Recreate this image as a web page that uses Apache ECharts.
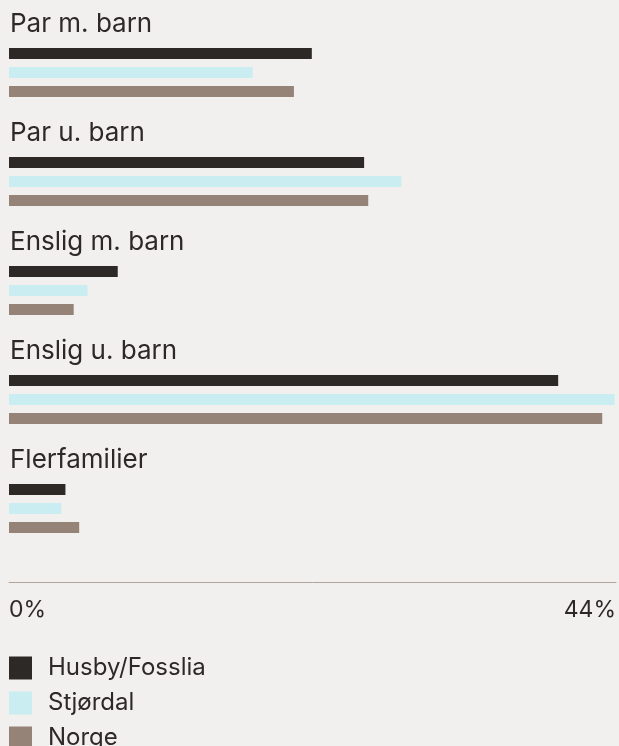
<!DOCTYPE html>
<html>
<head>
<meta charset="utf-8">
<script src="https://cdn.jsdelivr.net/npm/echarts@6/dist/echarts.min.js"></script>
<style>
html,body{margin:0;padding:0;background:#f2f0ee;}
#chart{width:619px;height:746px;}
</style>
</head>
<body>
<div id="chart"></div>
<script>
const categories = ['Par m. barn', 'Par u. barn', 'Enslig m. barn', 'Enslig u. barn', 'Flerfamilier'];
const seriesNames = ['Husby/Fosslia', 'Stjørdal', 'Norge'];
const husby = [22.0, 25.8, 7.9, 39.9, 4.1];
const stjordal = [17.7, 28.5, 5.7, 44.0, 3.8];
const norge = [20.7, 26.1, 4.7, 43.1, 5.1];
const axisMax = 44.1;
const colors = ['#2d2926', '#c9edf0', '#968378'];

const chart = echarts.init(document.getElementById('chart'));
const font = 'Inter, "Noto Sans", sans-serif';
const values = [husby, stjordal, norge];
chart.setOption({
  backgroundColor: '#f2f0ee',
  animation: false,
  textStyle: { fontFamily: font, color: '#2d2926' },
  grid: { left: 9, right: 0, top: 18, height: 545, containLabel: false },
  legend: {
    orient: 'vertical', left: 9, top: 656, height: 200, padding: 0,
    itemWidth: 23, itemHeight: 23, itemGap: 11, icon: 'rect',
    textStyle: { fontSize: 24, fontFamily: font, color: '#2d2926', padding: [0, 0, 0, 11] },
    data: seriesNames
  },
  xAxis: {
    type: 'value', min: 0, max: axisMax, interval: axisMax, offset: 19,
    axisLine: { show: true, lineStyle: { color: '#b3a49a', width: 1 } },
    axisTick: { show: false }, splitLine: { show: false },
    axisLabel: {
      fontSize: 23, color: '#2d2926', fontFamily: font, margin: 17,
      alignMinLabel: 'left', alignMaxLabel: 'right',
      formatter: v => Math.round(v) + '%'
    }
  },
  yAxis: {
    type: 'category', data: categories, inverse: true,
    axisLine: { show: false }, axisTick: { show: false }, splitLine: { show: false },
    axisLabel: {
      inside: true, align: 'left', verticalAlign: 'bottom', margin: 1,
      fontSize: 26, lineHeight: 28, color: '#2d2926', fontFamily: font,
      padding: [0, 0, 34, 0]
    }
  },
  series: seriesNames.map((name, i) => ({
    name, type: 'bar', data: values[i], barWidth: 11, barGap: '73%',
    itemStyle: { color: colors[i] }
  }))
});
</script>
</body>
</html>
